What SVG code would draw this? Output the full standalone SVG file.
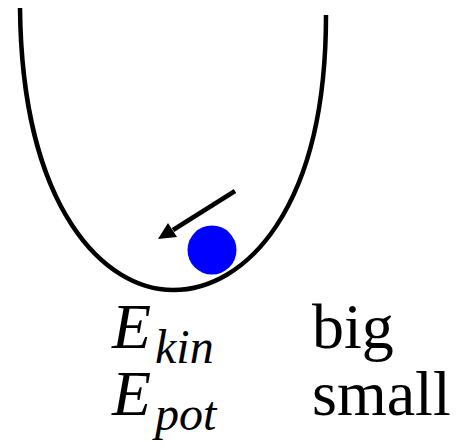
<svg xmlns="http://www.w3.org/2000/svg" width="459" height="448" viewBox="0 0 459 448">
<style>
.t{font-family:"Liberation Serif","DejaVu Serif",serif;fill:#000}
.i{font-style:italic}
</style>
<rect width="459" height="448" fill="#fff"/>
<g id="well">
<path d="M20,8 C22,210 105,290 173,290 C245,290 326,210 326,15" fill="none" stroke="#000" stroke-width="4.5"/>
</g>
<g id="ball">
<circle cx="212" cy="250" r="24.5" fill="#0000ff"/>
</g>
<g id="connectors">
<line x1="235" y1="191" x2="173" y2="230" stroke="#000" stroke-width="4.5"/>
<polygon points="158,239 177,237 168,223" fill="#000"/>
</g>
<g id="labels">
<text class="t i" x="112" y="348" font-size="64">E</text>
<text class="t i" x="155" y="363" font-size="48">kin</text>
<text class="t" x="312" y="348" font-size="64">big</text>
<text class="t i" x="112" y="415" font-size="64">E</text>
<text class="t i" x="155" y="430" font-size="48">pot</text>
<text class="t" x="312" y="415" font-size="64">small</text>
</g>
</svg>
